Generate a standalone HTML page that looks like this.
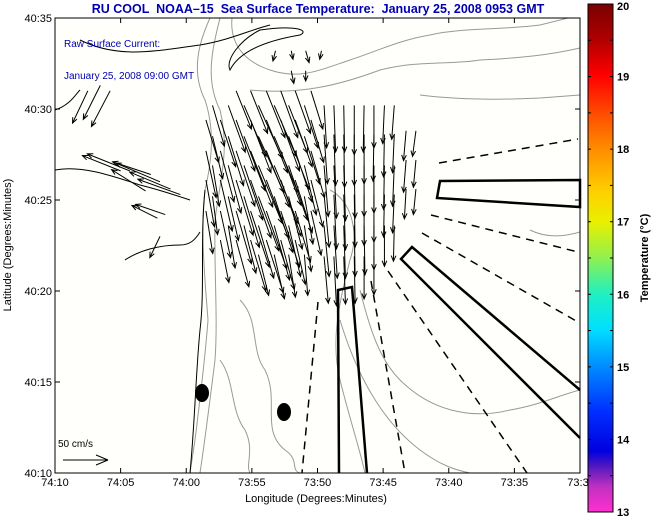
<!DOCTYPE html>
<html><head><meta charset="utf-8">
<style>
html,body{margin:0;padding:0;background:#fff;}
svg{display:block;font-family:"Liberation Sans",Arial,sans-serif;}
#title{white-space:pre;}
</style></head>
<body>
<svg id="chart" width="651" height="518" viewBox="0 0 651 518">
  <defs>
    <linearGradient id="cbar" x1="0" y1="0" x2="0" y2="1">
      <stop offset="0" stop-color="#7a0000"/>
      <stop offset="0.07" stop-color="#b00000"/>
      <stop offset="0.14" stop-color="#ff0000"/>
      <stop offset="0.22" stop-color="#ff5000"/>
      <stop offset="0.29" stop-color="#ff9000"/>
      <stop offset="0.37" stop-color="#ffd000"/>
      <stop offset="0.43" stop-color="#e8f000"/>
      <stop offset="0.50" stop-color="#90f050"/>
      <stop offset="0.57" stop-color="#20f0c0"/>
      <stop offset="0.64" stop-color="#00e0ff"/>
      <stop offset="0.71" stop-color="#0090ff"/>
      <stop offset="0.80" stop-color="#0030ff"/>
      <stop offset="0.88" stop-color="#0000e0"/>
      <stop offset="0.91" stop-color="#5018c0"/>
      <stop offset="0.95" stop-color="#c030c0"/>
      <stop offset="1" stop-color="#ff30d0"/>
    </linearGradient>
    <clipPath id="plotclip"><rect x="55" y="18" width="525" height="455"/></clipPath>
  </defs>

  <text id="title" x="318" y="13" text-anchor="middle" font-size="12.5" font-weight="bold" fill="#0000b0">RU COOL  NOAA–15  Sea Surface Temperature:  January 25, 2008 0953 GMT</text>

  <rect x="55" y="18" width="525" height="455" fill="#fffffb"/>

  <g clip-path="url(#plotclip)" fill="none">
    <path d="M210,18 C200,40 190,70 205,100 C215,130 212,160 205,190 C200,230 205,280 208,320 C205,360 200,400 195,440 L190,473" stroke="#999" stroke-width="1"/>
    <path d="M220,18 C212,50 205,80 220,110 C230,150 220,180 215,220 C214,270 218,320 215,360 C210,400 205,440 200,473" stroke="#999" stroke-width="1"/>
    <path d="M232,18 C230,40 240,60 270,70 C300,80 320,70 350,60 C380,50 400,40 430,35 C460,28 500,30 540,25 L580,15" stroke="#999" stroke-width="1"/>
    <path d="M250,90 C300,95 340,85 380,70 C420,60 450,65 480,60 C520,58 550,55 580,48" stroke="#999" stroke-width="1"/>
    <path d="M420,95 C460,100 500,100 540,98 L580,95" stroke="#999" stroke-width="1"/>
    <path d="M330,190 C350,200 360,230 350,260 C340,300 330,340 340,380 C350,420 360,450 365,473" stroke="#999" stroke-width="1"/>
    <path d="M360,290 C370,330 380,360 400,380 C430,410 470,420 510,410 C540,405 560,395 580,390" stroke="#999" stroke-width="1"/>
    <path d="M340,320 C355,370 380,420 420,450 C440,465 455,470 470,473" stroke="#999" stroke-width="1"/>
    <path d="M240,300 C260,320 250,350 265,370 C280,400 260,430 285,450 C300,460 290,470 300,473" stroke="#999" stroke-width="1"/>
    <path d="M220,360 C235,380 230,410 245,430 C255,450 245,465 250,473" stroke="#999" stroke-width="1"/>
    <path d="M530,230 C550,240 570,235 580,232" stroke="#999" stroke-width="1"/>
    <path d="M80,40 C120,60 160,50 200,45 C230,40 250,30 270,25" stroke="#000" stroke-width="1"/>
    <path d="M230,70 C240,50 270,40 300,35 C310,30 295,25 260,30 C240,40 225,60 230,70 Z" stroke="#000" stroke-width="1"/>
    <path d="M55,170 C80,165 110,175 140,185 C160,190 175,195 190,200" stroke="#000" stroke-width="1"/>
    <path d="M55,110 C70,105 75,95 80,90" stroke="#000" stroke-width="1"/>
    <path d="M125,260 C140,250 160,245 180,245 C190,245 195,240 200,232" stroke="#000" stroke-width="1"/>
    <path d="M205,190 C200,240 205,290 200,330 C196,370 195,420 190,473" stroke="#000" stroke-width="1"/>
  </g>

  <g id="arrows" stroke="#000" stroke-width="1" fill="none"></g>

  <g fill="none" stroke="#000">
    <polygon points="440,181 580,180 580,207 437,198" stroke-width="2.5"/>
    <polyline points="580,390 412,247 401,259 580,438" stroke-width="2.5"/>
    <polyline points="339,473 338,290 352,287 367,473" stroke-width="2.5"/>
    <g stroke-width="1.5" stroke-dasharray="8,6">
      <line x1="439" y1="163" x2="578" y2="139"/>
      <line x1="431" y1="215" x2="578" y2="252"/>
      <line x1="422" y1="233" x2="578" y2="322"/>
      <line x1="388" y1="271" x2="527" y2="473"/>
      <line x1="371" y1="281" x2="405" y2="473"/>
      <line x1="318" y1="302" x2="302" y2="473"/>
    </g>
  </g>
  <ellipse cx="202" cy="393" rx="7" ry="9" fill="#000"/>
  <ellipse cx="284" cy="412" rx="7" ry="9" fill="#000"/>

  <text x="64" y="47" font-size="10" fill="#0000b0">Raw Surface Current:</text>
  <text x="64" y="79" font-size="10" fill="#0000b0">January 25, 2008 09:00 GMT</text>
  <text x="58" y="447" font-size="10" fill="#000">50 cm/s</text>
  <g stroke="#000" stroke-width="1">
    <line x1="63" y1="460" x2="108" y2="460"/>
    <line x1="108" y1="460" x2="96" y2="455"/>
    <line x1="108" y1="460" x2="96" y2="465"/>
  </g>

  <rect x="55" y="18" width="525" height="455" fill="none" stroke="#000" stroke-width="1"/>
  <g id="axes"></g>

  <text x="316" y="502" text-anchor="middle" font-size="11">Longitude (Degrees:Minutes)</text>
  <text transform="translate(11,245) rotate(-90)" text-anchor="middle" font-size="11">Latitude (Degrees:Minutes)</text>

  <rect x="588" y="4" width="25" height="508" fill="url(#cbar)" stroke="#000" stroke-width="1"/>
  <g id="cbticks"></g>
  <text transform="translate(648,258) rotate(-90)" text-anchor="middle" font-size="11" font-weight="bold">Temperature (°C)</text>
</svg>
<script>
// Axis ticks (minutes east of 74:10 / minutes north of 40:10)
const xTickMins = [0, 5, 10, 15, 20, 25, 30, 35, 40];
const xTickLabels = ["74:10","74:05","74:00","73:55","73:50","73:45","73:40","73:35","73:3"];
const yTickMins = [0, 5, 10, 15, 20, 25];
const yTickLabels = ["40:10","40:15","40:20","40:25","40:30","40:35"];
const cbValues = [13, 14, 15, 16, 17, 18, 19, 20];

// Current vectors: lon (minutes east of 74:10), lat (minutes north of 40:10), u/v in cm/s
const lonMin = [
  20.5,21.25,22.0,22.8,23.55,24.3,25.1,25.85,
  20.5,21.25,22.0,22.8,23.55,24.3,25.1,25.85,
  20.5,21.25,22.0,22.8,23.55,24.3,25.1,25.85,
  20.5,21.25,22.0,22.8,23.55,24.3,25.1,25.85,
  20.5,21.25,22.0,22.8,23.55,24.3,25.1,25.85,
  20.5,21.25,22.0,22.8,23.55,24.3,
  26.75,27.5,26.75,27.5,26.75,27.5,
  13.8,14.9,16.1,17.2,18.3,19.5,
  11.5,12.6,13.8,14.9,16.1,17.2,18.3,19.5,
  11.5,12.6,13.8,14.9,16.1,17.2,18.3,19.5,
  11.5,12.6,13.8,14.9,16.1,17.2,18.3,19.5,
  11.5,12.6,13.8,14.9,16.1,17.2,18.3,19.5,
  12.6,13.8,14.9,16.1,17.2,18.3,
  12.0,13.2,14.4,15.5,16.7,17.8,19.0,
  12.0,13.2,14.4,15.5,16.7,17.8,19.0,
  12.0,13.2,14.4,15.5,16.7,17.8,19.0,
  12.0,13.2,14.4,15.5,16.7,17.8,19.0,
  13.2,14.4,15.5,16.7,17.8,19.0,
  15.5,16.7,17.8,19.0,
  9.55,8.8,8.0,7.3,6.9,5.7,5.0,8.4,7.8,
  3.45,2.5,4.2,8.0,
  16.8,18.0,19.1,20.3,18.0,19.1
];
const latMin = [
  20.2,20.2,20.2,20.2,20.2,20.2,20.2,20.2,
  18.6,18.6,18.6,18.6,18.6,18.6,18.6,18.6,
  16.9,16.9,16.9,16.9,16.9,16.9,16.9,16.9,
  15.3,15.3,15.3,15.3,15.3,15.3,15.3,15.3,
  13.6,13.6,13.6,13.6,13.6,13.6,13.6,13.6,
  11.9,11.9,11.9,11.9,11.9,11.9,
  18.8,18.8,17.2,17.2,15.6,15.6,
  21.0,21.0,21.0,21.0,21.0,21.0,
  19.4,19.4,19.4,19.4,19.4,19.4,19.4,19.4,
  17.7,17.7,17.7,17.7,17.7,17.7,17.7,17.7,
  16.1,16.1,16.1,16.1,16.1,16.1,16.1,16.1,
  14.4,14.4,14.4,14.4,14.4,14.4,14.4,14.4,
  12.8,12.8,12.8,12.8,12.8,12.8,
  20.2,20.2,20.2,20.2,20.2,20.2,20.2,
  18.5,18.5,18.5,18.5,18.5,18.5,18.5,
  16.9,16.9,16.9,16.9,16.9,16.9,16.9,
  15.2,15.2,15.2,15.2,15.2,15.2,15.2,
  13.6,13.6,13.6,13.6,13.6,13.6,
  12.0,12.0,12.0,12.0,
  15.3,15.6,16.0,16.4,15.5,16.6,16.6,14.2,14.0,
  21.3,21.0,21.0,13.0,
  23.2,23.2,23.2,23.2,22.1,22.1
];
const uCms = [
  3,2,1,0,-1,0,-2,-3,
  4,2,1,0,0,-1,-1,-2,
  5,3,2,1,0,0,-1,-2,
  6,3,2,1,0,0,-1,-2,
  6,4,2,1,1,0,0,-1,
  5,3,2,1,0,0,
  -3,-4,-3,-3,-2,-3,
  18,20,22,20,18,14,
  15,18,22,24,25,22,20,15,
  12,16,22,26,27,24,20,16,
  10,14,20,24,26,24,20,14,
  8,12,18,22,24,22,18,12,
  10,15,18,20,16,12,
  14,20,26,28,26,22,16,
  12,18,25,30,28,24,18,
  8,15,22,28,28,22,14,
  6,12,18,24,22,16,10,
  8,14,18,18,14,8,
  12,12,8,4,
  -50,-48,-52,-45,-40,-50,-45,-35,-30,
  -20,-18,-22,-12,
  -3,2,4,-2,3,0
];
const vCms = [
  -50,-55,-55,-58,-55,-50,-45,-40,
  -58,-60,-62,-60,-58,-55,-50,-45,
  -60,-62,-65,-62,-60,-56,-52,-48,
  -62,-64,-65,-62,-60,-56,-50,-45,
  -60,-62,-62,-60,-58,-52,-48,-42,
  -55,-58,-56,-55,-50,-45,
  -35,-30,-38,-32,-35,-30,
  -45,-50,-55,-55,-50,-45,
  -50,-55,-60,-62,-62,-60,-55,-50,
  -55,-60,-65,-66,-66,-64,-60,-55,
  -55,-60,-65,-68,-68,-66,-62,-55,
  -50,-55,-62,-66,-68,-66,-60,-52,
  -50,-55,-60,-62,-58,-52,
  -48,-55,-60,-62,-60,-56,-50,
  -50,-58,-64,-66,-66,-62,-56,
  -48,-56,-64,-68,-68,-64,-58,
  -45,-52,-60,-64,-66,-62,-56,
  -50,-56,-62,-64,-60,-54,
  -48,-52,-50,-48,
  18,20,22,15,25,20,18,12,15,
  -40,-38,-42,-25,
  -12,-10,-14,-10,-15,-12
];

const PX0 = 55, PX1 = 580, PY0 = 473, PY1 = 18;
const xScale = m => PX0 + m * (PX1 - PX0) / 40;
const yScale = m => PY0 - m * (PY0 - PY1) / 25;
const lenScale = 0.85; // px per cm/s
const cbY = t => 512 - (t - 13) * (508 / 7);
const NS = "http://www.w3.org/2000/svg";

const axes = document.getElementById('axes');
xTickMins.forEach((m, i) => {
  const x = xScale(m);
  [[PY0, PY0 - 5], [PY1, PY1 + 5]].forEach(p => {
    const l = document.createElementNS(NS, 'line');
    l.setAttribute('x1', x); l.setAttribute('x2', x);
    l.setAttribute('y1', p[0]); l.setAttribute('y2', p[1]);
    l.setAttribute('stroke', '#000');
    
    
    axes.appendChild(l);
  });
  const t = document.createElementNS(NS, 'text');
  t.setAttribute('x', i === xTickMins.length - 1 ? x - 2 : x);
  t.setAttribute('y', 486);
  t.setAttribute('text-anchor', 'middle');
  t.setAttribute('font-size', '11');
  t.textContent = xTickLabels[i];
  
  
  axes.appendChild(t);
});
yTickMins.forEach((m, i) => {
  const y = yScale(m);
  [[PX0, PX0 + 5], [PX1, PX1 - 5]].forEach(p => {
    const l = document.createElementNS(NS, 'line');
    l.setAttribute('x1', p[0]); l.setAttribute('x2', p[1]);
    l.setAttribute('y1', y); l.setAttribute('y2', y);
    l.setAttribute('stroke', '#000');
    
    
    axes.appendChild(l);
  });
  const t = document.createElementNS(NS, 'text');
  t.setAttribute('x', 52);
  t.setAttribute('y', y + 4);
  t.setAttribute('text-anchor', 'end');
  t.setAttribute('font-size', '11');
  t.textContent = yTickLabels[i];
  
  
  axes.appendChild(t);
});

const cbt = document.getElementById('cbticks');
for (let v = 13; v <= 20.001; v += 0.5) {
  const y = cbY(v);
  [[588, 591], [613, 610]].forEach(p => {
    const l = document.createElementNS(NS, 'line');
    l.setAttribute('x1', p[0]); l.setAttribute('x2', p[1]);
    l.setAttribute('y1', y); l.setAttribute('y2', y);
    l.setAttribute('stroke', '#000');
    
    
    cbt.appendChild(l);
  });
}
cbValues.forEach(v => {
  const t = document.createElementNS(NS, 'text');
  t.setAttribute('x', 617);
  t.setAttribute('y', Math.min(Math.max(cbY(v) + 4, 10), 516));
  t.setAttribute('font-size', '11');
  t.setAttribute('font-weight', 'bold');
  t.textContent = v;
  
  
  cbt.appendChild(t);
});

const ag = document.getElementById('arrows');
for (let i = 0; i < lonMin.length; i++) {
  const x0 = xScale(lonMin[i]), y0 = yScale(latMin[i]);
  const x1 = x0 + uCms[i] * lenScale, y1 = y0 - vCms[i] * lenScale;
  const ang = Math.atan2(y1 - y0, x1 - x0);
  const h = 6, a = 0.4;
  const p = document.createElementNS(NS, 'path');
  const hx1 = x1 - h * Math.cos(ang - a), hy1 = y1 - h * Math.sin(ang - a);
  const hx2 = x1 - h * Math.cos(ang + a), hy2 = y1 - h * Math.sin(ang + a);
  p.setAttribute('d', `M${x0},${y0}L${x1},${y1}M${hx1},${hy1}L${x1},${y1}L${hx2},${hy2}`);
  
  
  ag.appendChild(p);
}
</script>
</body></html>
